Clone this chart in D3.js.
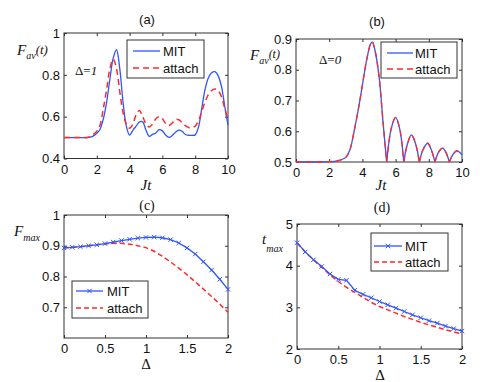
<!DOCTYPE html>
<html>
<head>
<meta charset="utf-8">
<script src="https://cdn.jsdelivr.net/npm/d3@7"></script>
<style>
  body { margin: 0; background: #fff; }
  .tick text { font-family: "Liberation Sans", Arial, sans-serif; font-size: 13px; fill: #111; }
  .tick line { stroke: #333; }
</style>
</head>
<body>
<svg id="fig" width="491" height="382"></svg>
<script>
// ---- data ----
var jtA = [0,0.2,0.4,0.6,0.8,1,1.2,1.4,1.6,1.8,2,2.2,2.4,2.6,2.8,3,3.2,3.4,3.6,3.8,4,
           4.2,4.4,4.6,4.8,5,5.2,5.4,5.6,5.8,6,6.2,6.4,6.6,6.8,7,7.2,7.4,7.6,7.8,8,
           8.2,8.4,8.6,8.8,9,9.2,9.4,9.6,9.8,10];
var mitA = [0.5,0.5,0.5,0.5,0.5,0.5,0.5,0.5,0.502,0.508,0.52,0.54,0.59,0.67,0.78,0.88,0.92,0.83,0.67,0.555,0.512,
            0.535,0.555,0.575,0.575,0.535,0.506,0.515,0.522,0.538,0.532,0.512,0.501,0.51,0.526,0.536,0.53,0.515,0.511,0.511,0.513,
            0.55,0.64,0.73,0.785,0.81,0.815,0.795,0.745,0.65,0.56];
var attachA = [0.5,0.5,0.5,0.5,0.5,0.5,0.5,0.5,0.505,0.515,0.53,0.56,0.64,0.73,0.83,0.875,0.83,0.72,0.62,0.565,0.545,
               0.565,0.61,0.63,0.6,0.565,0.551,0.565,0.59,0.6,0.59,0.567,0.558,0.57,0.587,0.585,0.572,0.557,0.548,0.548,0.555,
               0.58,0.625,0.67,0.705,0.725,0.732,0.725,0.695,0.64,0.583];

var jtB = [0,0.5,1,1.5,2,2.5,3,3.25,3.5,3.75,4,4.25,4.5,4.6,4.75,5,5.25,5.46,5.75,6,6.25,6.49,
           6.7,6.95,7.2,7.43,7.65,7.93,8.15,8.37,8.6,8.84,9.05,9.24,9.45,9.68,9.85,10];
var mitB = [0.5,0.5,0.5,0.5,0.501,0.504,0.515,0.54,0.6,0.67,0.75,0.83,0.885,0.89,0.865,0.78,0.625,0.5,0.612,0.645,0.607,0.5,
            0.556,0.588,0.56,0.5,0.54,0.561,0.54,0.5,0.533,0.545,0.529,0.5,0.524,0.536,0.532,0.523];
var attachB = [0.5,0.5,0.5,0.5,0.501,0.504,0.515,0.54,0.6,0.67,0.75,0.83,0.885,0.89,0.865,0.78,0.625,0.5,0.612,0.645,0.607,0.5,
               0.556,0.588,0.56,0.5,0.54,0.561,0.54,0.5,0.533,0.545,0.529,0.5,0.524,0.536,0.532,0.523];

var delta = [0,0.1,0.2,0.3,0.4,0.5,0.6,0.7,0.8,0.9,1,1.1,1.2,1.3,1.4,1.5,1.6,1.7,1.8,1.9,2];
var fmaxMIT = [0.893,0.895,0.897,0.9,0.903,0.907,0.912,0.917,0.921,0.925,0.927,0.928,0.926,0.92,0.909,0.893,0.873,0.848,0.821,0.791,0.758];
var fmaxAttach = [0.893,0.895,0.897,0.9,0.903,0.906,0.908,0.908,0.905,0.9,0.894,0.882,0.866,0.847,0.827,0.806,0.783,0.759,0.735,0.71,0.684];
var tmaxMIT = [4.55,4.33,4.14,3.98,3.8,3.67,3.65,3.41,3.31,3.23,3.14,3.06,2.98,2.9,2.82,2.75,2.68,2.62,2.55,2.49,2.43];
var tmaxAttach = [4.55,4.33,4.14,3.96,3.78,3.62,3.48,3.36,3.24,3.12,3.02,2.94,2.86,2.78,2.71,2.64,2.58,2.52,2.46,2.41,2.36];

var ticksJt = [0,2,4,6,8,10];
var ticksDelta = [0,0.5,1,1.5,2];
var ticksA = [0.4,0.6,0.8,1];
var ticksB = [0.5,0.6,0.7,0.8,0.9];
var ticksC = [0.7,0.8,0.9,1];
var ticksD = [2,3,4,5];

var blue = "#2f55ff", red = "#ff2a2a";
var sans = '"Liberation Sans", Arial, sans-serif';
var serif = '"Liberation Serif", "Times New Roman", serif';

var svg = d3.select("#fig");

function panel(box, xd, yd, xt, yt) {
  var x = d3.scaleLinear().domain(xd).range([box.l, box.r]);
  var y = d3.scaleLinear().domain(yd).range([box.b, box.t]);
  var g = svg.append("g");
  var fmt = function(d) { return String(d); };

  g.append("g").attr("transform", "translate(0," + box.b + ")")
    .call(d3.axisBottom(x).tickValues(xt).tickFormat(fmt).tickSizeInner(-3).tickSizeOuter(0).tickPadding(box.xpad));
  g.append("g").attr("transform", "translate(0," + box.t + ")")
    .call(d3.axisTop(x).tickValues(xt).tickFormat("").tickSizeInner(-3).tickSizeOuter(0));
  g.append("g").attr("transform", "translate(" + box.l + ",0)")
    .call(d3.axisLeft(y).tickValues(yt).tickFormat(fmt).tickSizeInner(-3).tickSizeOuter(0).tickPadding(4));
  g.append("g").attr("transform", "translate(" + box.r + ",0)")
    .call(d3.axisRight(y).tickValues(yt).tickFormat("").tickSizeInner(-3).tickSizeOuter(0));
  g.selectAll(".domain").remove();
  g.selectAll(".tick text").attr("font-family", null).attr("font-size", null);

  g.append("rect")
    .attr("x", box.l).attr("y", box.t)
    .attr("width", box.r - box.l).attr("height", box.b - box.t)
    .attr("fill", "none").attr("stroke", "#333").attr("stroke-width", 1);
  return { x: x, y: y, g: g };
}

function drawLine(p, xs, ys, color, width, dash, curve) {
  var pts = xs.map(function(d, i) { return [d, ys[i]]; });
  var line = d3.line()
    .x(function(d) { return p.x(d[0]); })
    .y(function(d) { return p.y(d[1]); })
    .curve(curve || d3.curveLinear);
  p.g.append("path").datum(pts)
    .attr("d", line)
    .attr("fill", "none").attr("stroke", color)
    .attr("stroke-width", width)
    .attr("stroke-dasharray", dash || null);
}

// split at sharp minima so the cusps stay pointed
function drawCusped(p, xs, ys, color, width, dash) {
  var start = 0;
  for (var i = 1; i < xs.length; i++) {
    var isMin = i < xs.length - 1 && ys[i] < ys[i - 1] && ys[i] < ys[i + 1];
    if (isMin || i === xs.length - 1) {
      drawLine(p, xs.slice(start, i + 1), ys.slice(start, i + 1), color, width, dash, d3.curveCatmullRom);
      start = i;
    }
  }
}

function markers(p, xs, ys, color) {
  p.g.selectAll(null).data(xs).enter().append("path")
    .attr("transform", function(d, i) { return "translate(" + p.x(d) + "," + p.y(ys[i]) + ")"; })
    .attr("d", "M-2.2,-2.2L2.2,2.2M-2.2,2.2L2.2,-2.2")
    .attr("stroke", color).attr("stroke-width", 1);
}

function legend(b, items) {
  svg.append("rect")
    .attr("x", b.l).attr("y", b.t).attr("width", b.w).attr("height", b.h)
    .attr("fill", "#fff").attr("stroke", "#333").attr("stroke-width", 1);
  items.forEach(function(it, i) {
    var yy = b.t + b.rows[i];
    svg.append("line")
      .attr("x1", b.lx0).attr("x2", b.lx1).attr("y1", yy).attr("y2", yy)
      .attr("stroke", it.color).attr("stroke-width", it.width)
      .attr("stroke-dasharray", it.dash || null);
    if (it.marker) {
      svg.append("path")
        .attr("transform", "translate(" + ((b.lx0 + b.lx1) / 2) + "," + yy + ")")
        .attr("d", "M-2.2,-2.2L2.2,2.2M-2.2,2.2L2.2,-2.2")
        .attr("stroke", it.color).attr("stroke-width", 1);
    }
    svg.append("text")
      .attr("x", b.tx).attr("y", yy + 4.5)
      .attr("font-family", sans).attr("font-size", 13).attr("fill", "#111")
      .text(it.label);
  });
}

function label(x, y, parts, anchor) {
  var t = svg.append("text").attr("x", x).attr("y", y)
    .attr("text-anchor", anchor || "start").attr("fill", "#111");
  parts.forEach(function(s) {
    t.append("tspan")
      .attr("font-family", s.f || serif)
      .attr("font-size", s.size || 14)
      .attr("font-style", s.it ? "italic" : "normal")
      .attr("dy", s.dy || 0)
      .text(s.t);
  });
}

// ---- (a) ----
var pa = panel({ l: 64, r: 228, t: 33, b: 158.5, xpad: 6 }, [0, 10], [0.4, 1], ticksJt, ticksA);
drawLine(pa, jtA, mitA, blue, 1.3, null, d3.curveCatmullRom);
drawLine(pa, jtA, attachA, red, 1.5, "6,4", d3.curveCatmullRom);
legend({ l: 127, t: 40, w: 77, h: 38, rows: [11, 28], lx0: 133, lx1: 160, tx: 163 },
  [{ label: "MIT", color: blue, width: 1.3 }, { label: "attach", color: red, width: 1.5, dash: "6,4" }]);
label(147, 24, [{ t: "(a)", f: sans, size: 13 }], "middle");
label(146, 190, [{ t: "Jt", it: true, size: 15 }], "middle");
label(17, 55, [{ t: "F", it: true, size: 15 }, { t: "av", it: true, size: 10, dy: 4 }, { t: "(t)", it: true, size: 13, dy: -5 }]);
label(75, 75, [{ t: "Δ=", size: 13 }, { t: "1", it: true, size: 13 }]);

// ---- (b) ----
var pb = panel({ l: 296, r: 462, t: 39, b: 162, xpad: 6 }, [0, 10], [0.5, 0.9], ticksJt, ticksB);
drawCusped(pb, jtB, mitB, blue, 1.3, null);
drawCusped(pb, jtB, attachB, red, 1.3, "6,4");
legend({ l: 381, t: 42, w: 76, h: 36, rows: [11, 27], lx0: 387, lx1: 413, tx: 415 },
  [{ label: "MIT", color: blue, width: 1.3 }, { label: "attach", color: red, width: 1.3, dash: "6,4" }]);
label(377, 26, [{ t: "(b)", f: sans, size: 13 }], "middle");
label(381, 190, [{ t: "Jt", it: true, size: 15 }], "middle");
label(250, 60, [{ t: "F", it: true, size: 15 }, { t: "av", it: true, size: 10, dy: 4 }, { t: "(t)", it: true, size: 12, dy: -6 }]);
label(319, 64, [{ t: "Δ=", size: 13 }, { t: "0", it: true, size: 13 }]);

// ---- (c) ----
var pc = panel({ l: 64, r: 228, t: 215, b: 338, xpad: 6 }, [0, 2], [0.6, 1], ticksDelta, ticksC);
drawLine(pc, delta, fmaxAttach, red, 1.5, "5,3");
drawLine(pc, delta, fmaxMIT, blue, 1.3);
markers(pc, delta, fmaxMIT, blue);
legend({ l: 72, t: 281, w: 76, h: 37, rows: [10, 27], lx0: 76, lx1: 103, tx: 107 },
  [{ label: "MIT", color: blue, width: 1.3, marker: true }, { label: "attach", color: red, width: 1.5, dash: "5,3" }]);
label(147, 210, [{ t: "(c)", size: 14 }], "middle");
label(146, 369, [{ t: "Δ", size: 15 }], "middle");
label(14, 236, [{ t: "F", it: true, size: 15 }, { t: "max", it: true, size: 10, dy: 5 }]);

// ---- (d) ----
var pd = panel({ l: 297, r: 462, t: 224, b: 349, xpad: 6 }, [0, 2], [2, 5], ticksDelta, ticksD);
drawLine(pd, delta, tmaxAttach, red, 1.5, "5,3");
drawLine(pd, delta, tmaxMIT, blue, 1.3);
markers(pd, delta, tmaxMIT, blue);
legend({ l: 371, t: 233, w: 77, h: 38, rows: [13, 29], lx0: 374, lx1: 402, tx: 405 },
  [{ label: "MIT", color: blue, width: 1.3, marker: true }, { label: "attach", color: red, width: 1.5, dash: "5,3" }]);
label(382, 212, [{ t: "(d)", size: 14 }], "middle");
label(380, 380, [{ t: "Δ", size: 15 }], "middle");
label(262, 244, [{ t: "t", it: true, size: 15 }, { t: "max", it: true, size: 10, dy: 8 }]);
</script>
</body>
</html>
